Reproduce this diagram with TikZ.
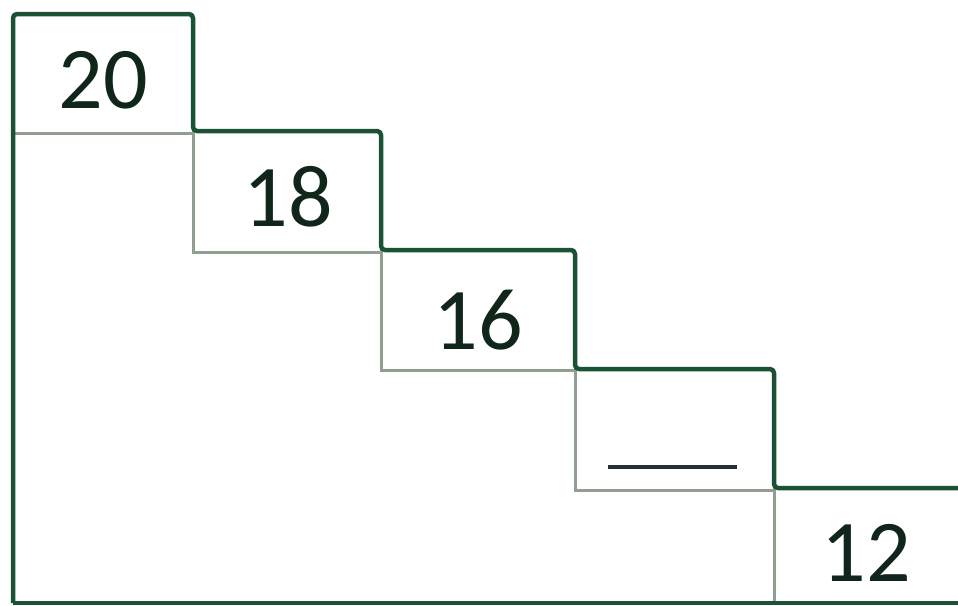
\documentclass[tikz,border=0pt]{standalone}
\usepackage{fontspec}
\setmainfont{Carlito}
\definecolor{darkgrn}{HTML}{1B5235}
\definecolor{gridgray}{HTML}{909F90}
\definecolor{numcol}{HTML}{10261A}
\definecolor{blankcol}{HTML}{2A2F33}
\tikzset{
  outline/.style={draw=darkgrn, line width=4.5pt, rounded corners=4pt, line join=round},
  gridline/.style={draw=gridgray, line width=3pt},
  num/.style={text=numcol, inner sep=0pt, font=\fontsize{88}{88}\selectfont},
  blank/.style={draw=blankcol, line width=4pt}
}
\begin{document}
\begin{tikzpicture}[x=1pt,y=-1pt]
\useasboundingbox (0,0) rectangle (958,605);
\fill[white] (0,0) rectangle (958,605);
% grey inner lines
\draw[gridline] (13,133) -- (193,133);
\draw[gridline] (193,131) -- (193,252) -- (381,252);
\draw[gridline] (381,250) -- (381,370) -- (575,370);
\draw[gridline] (575,369) -- (575,490) -- (774,490);
\draw[gridline] (774,488) -- (774,603);
% outer staircase
\draw[outline] (13,603) -- (13,14) -- (193,14) -- (193,131) -- (381,131) -- (381,250)
  -- (575,250) -- (575,369) -- (774,369) -- (774,488) -- (958,488);
\draw[outline] (13,603) -- (958,603);
% numbers
\node[num] (n20) at (103,80) {20};
\node[num] (n18) at (288,197) {18};
\node[num] (n16) at (478,320) {16};
\node[num] (n12) at (866,553) {12};
\coordinate (b1) at (608,467);
\coordinate (b2) at (737,467);
\draw[blank] (b1) -- (b2);
\end{tikzpicture}
\end{document}
